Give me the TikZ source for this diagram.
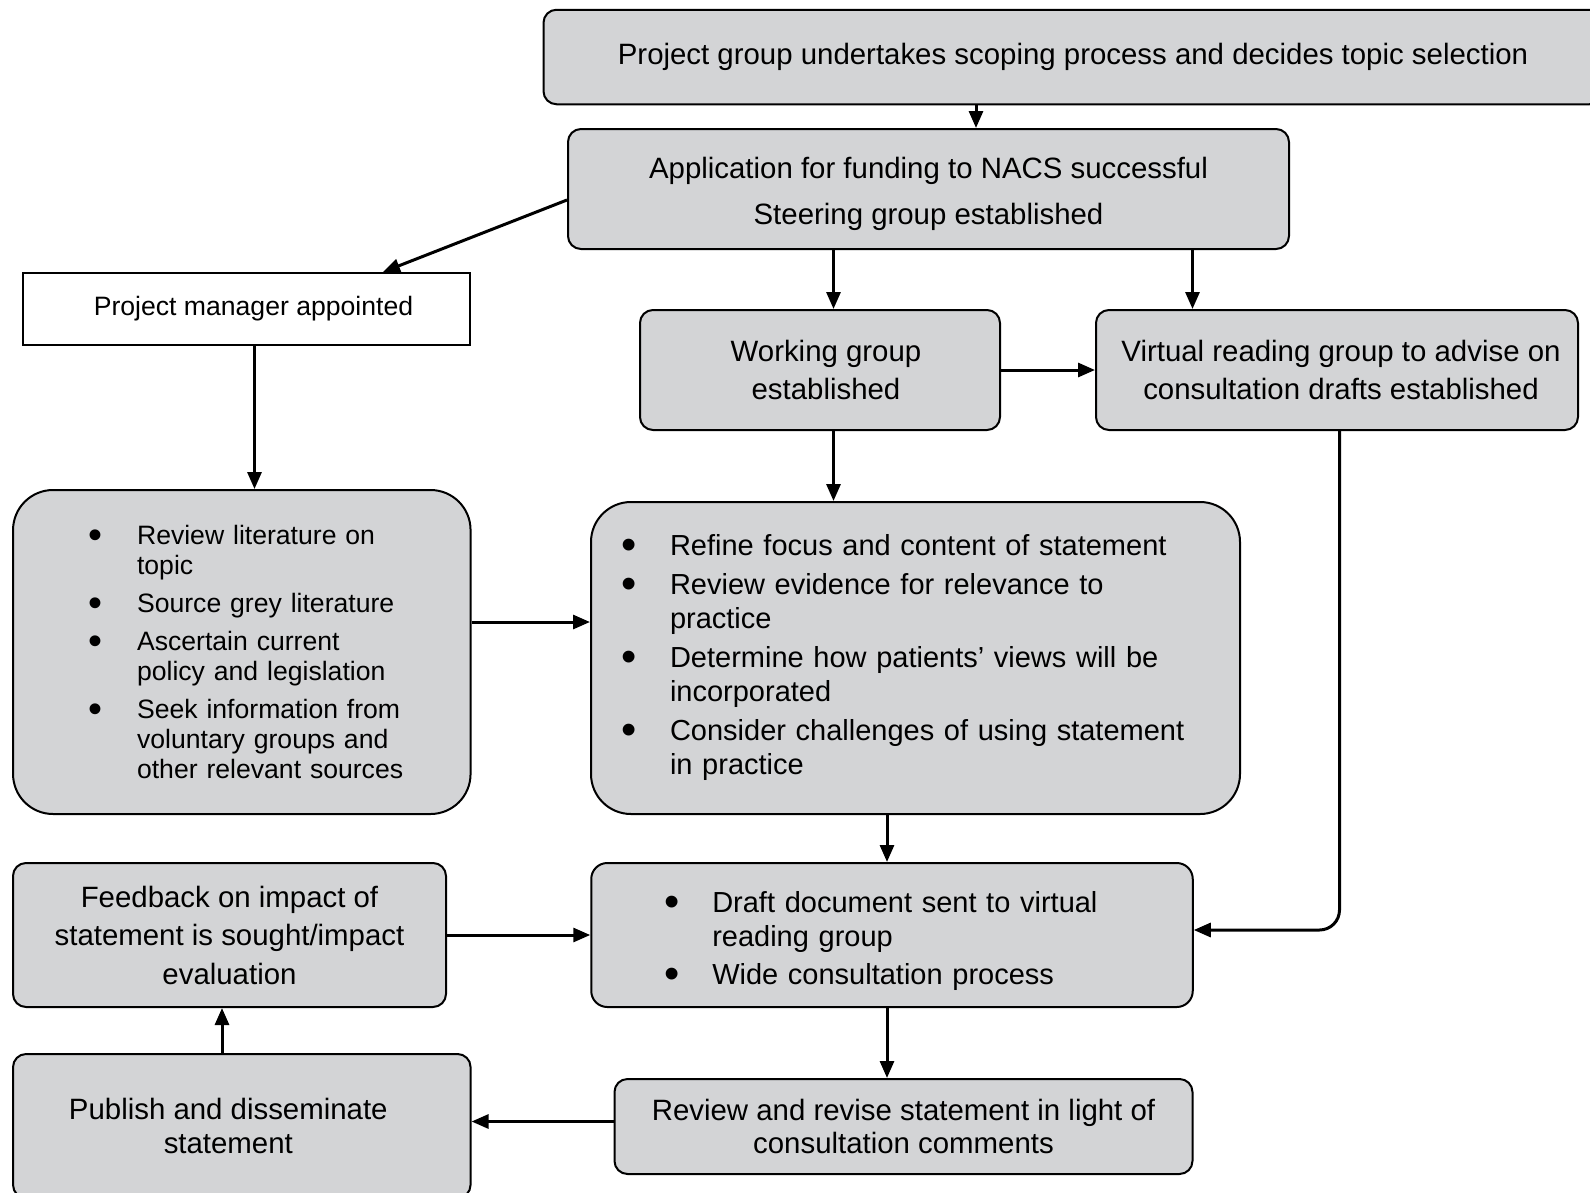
\documentclass[tikz,border=0pt]{standalone}
\usepackage{fontspec}
\setmainfont{Liberation Sans}
\usepackage{graphicx}
\usepackage{enumitem}
\usetikzlibrary{arrows.meta}
\definecolor{boxgray}{RGB}{211,212,214}
\setlist[itemize]{label={\raisebox{-4pt}{\scalebox{1.5}{\textbullet}}},topsep=0pt,parsep=0pt,partopsep=0pt}

\begin{document}
\begin{tikzpicture}[x=1pt,y=-1pt,>={Triangle[length=17pt,width=14pt]}]
			\tikzstyle{b} = [draw, line width=2pt, fill=boxgray, rounded corners=13pt, align=center, inner sep=0pt, font=\fontsize{29.4}{38.5}\selectfont]
			\tikzstyle{lst} = [b, rounded corners=40pt, align=left]
			\tikzstyle{ar} = [line width=3pt, ->]

			\useasboundingbox (0,0) rectangle (1590,1192);

			\node [b, minimum width=1059pt, minimum height=94.5pt] (scope) at (1073,57) {Project group undertakes scoping process and decides topic selection};
			\node [b, minimum width=721pt, minimum height=120pt, font=\fontsize{29.4}{46}\selectfont] (app) at (928.5,189) {\rule{0pt}{31.5pt}Application for funding to NACS successful\\Steering group established};
			\node [b, fill=white, rounded corners=0pt, minimum width=447pt, minimum height=72pt, font=\fontsize{26.6}{30}\selectfont] (pm) at (246,309) {\hspace*{15pt}Project manager appointed};
			\node [b, minimum width=360pt, minimum height=120pt] (wg) at (820,370) {\hspace*{12pt}Working group\\\hspace*{12pt}established};
			\node [b, minimum width=482pt, minimum height=120pt] (vr) at (1337,370) {\hspace*{8pt}Virtual reading group to advise on\\\hspace*{8pt}consultation drafts established};

			\node [lst, text width=457.5pt, minimum height=324pt, font=\fontsize{26.6}{30}\selectfont] (lit) at (241.8,652) {%
				\begin{itemize}[leftmargin=124pt,labelsep=35pt,itemsep=8pt]
					\item Review literature on\\topic
					\item Source grey literature
					\item Ascertain current\\policy and legislation
					\item Seek information from\\voluntary groups and\\other relevant sources
				\end{itemize}\par\vskip10pt\hrule height0pt width0pt};
			\node [lst, text width=649pt, minimum height=312pt, font=\fontsize{29}{33.5}\selectfont] (refine) at (915.5,658) {%
				\begin{itemize}[leftmargin=79pt,labelsep=33pt,itemsep=6pt]
					\item Refine focus and content of statement
					\item Review evidence for relevance to\\practice
					\item Determine how patients’ views will be\\incorporated
					\item Consider challenges of using statement\\in practice
				\end{itemize}\par\vskip14pt\hrule height0pt width0pt};

			\node [lst, rounded corners=16pt, text width=601.5pt, minimum height=144pt, font=\fontsize{29}{33.5}\selectfont] (draft) at (892,935) {%
				\begin{itemize}[leftmargin=121pt,labelsep=33pt,itemsep=5pt]
					\item Draft document sent to virtual\\reading group
					\item Wide consultation process
				\end{itemize}};
			\node [b, minimum width=433pt, minimum height=144pt] (fb) at (229.5,935) {Feedback on impact of\\statement is sought/impact\\evaluation};
			\node [b, minimum width=578pt, minimum height=95pt, font=\fontsize{29.4}{33.5}\selectfont] (rev) at (903.5,1126.5) {Review and revise statement in light of\\consultation comments};
			\node [b, minimum width=457.5pt, minimum height=144pt, font=\fontsize{29.4}{34.5}\selectfont] (pub) at (241.8,1126) {\hspace*{-27pt}Publish and disseminate\\\hspace*{-27pt}statement};

			\draw [ar] (976,0 |- scope.south) -- (976,0 |- app.north);
			\draw [ar] ([yshift=-11pt]app.west) -- (383,0 |- pm.north);
			\draw [ar] (833.5,0 |- app.south) -- (833.5,0 |- wg.north);
			\draw [ar] (1192.5,0 |- app.south) -- (1192.5,0 |- vr.north);
			\draw [ar] (wg.east) -- (vr.west);
			\draw [ar] (254.5,0 |- pm.south) -- (254.5,0 |- lit.north);
			\draw [ar] (833.5,0 |- wg.south) -- (833.5,0 |- refine.north);
			\draw [ar] (lit.east |- 0,622) -- (refine.west |- 0,622);
			\draw [ar] (887,0 |- refine.south) -- (887,0 |- draft.north);
			\draw [ar, rounded corners=20pt] (1339.5,0 |- vr.south) |- (draft.east |- 0,930);
			\draw [ar] (fb.east) -- (draft.west);
			\draw [ar] (887,0 |- draft.south) -- (887,0 |- rev.north);
			\draw [ar] (rev.west |- 0,1121.5) -- (pub.east |- 0,1121.5);
			\draw [ar] (222,0 |- pub.north) -- (222,0 |- fb.south);

		\end{tikzpicture}
\end{document}
